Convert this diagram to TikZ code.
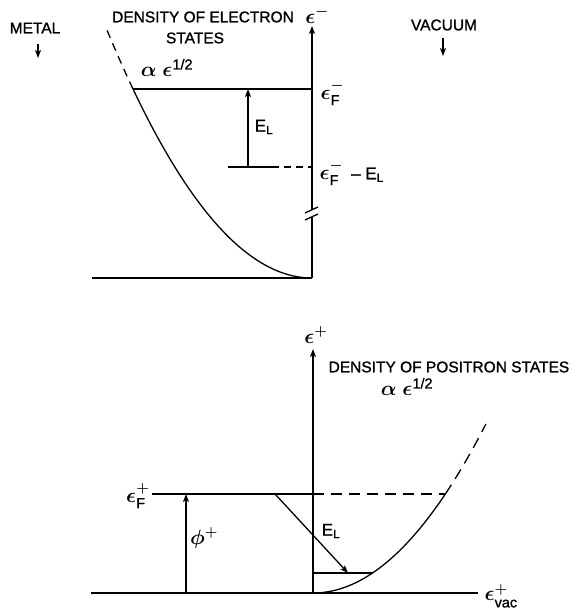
\documentclass[tikz,border=0pt]{standalone}
\usepackage{amsmath}
\usepackage{fontspec}
\setmainfont{Liberation Sans}
\newfontfamily\lbfont{Liberation Sans}[BoldFont={Liberation Sans}, BoldFeatures={FakeBold=1.2}]
\usetikzlibrary{arrows.meta}
\begin{document}
\begin{tikzpicture}[x=1pt,y=-1pt, line width=1.3pt,
  lbl/.style={font=\fontsize{15.5}{18}\selectfont\lbfont\bfseries, inner sep=0pt},
  ellbl/.style={font=\fontsize{17}{18}\selectfont\lbfont\bfseries, inner sep=0pt},
  mlbl/.style={font=\fontsize{20.74}{22}\selectfont\lbfont\bfseries\boldmath, inner sep=0pt},
  arr/.style={-{Stealth[length=8pt,width=6pt,inset=2pt]}},
  dsh/.style={dash pattern=on 8pt off 6pt},
  dshs/.style={dash pattern=on 7pt off 5pt},
  dshl/.style={dash pattern=on 11pt off 7pt}]
\useasboundingbox (0,0) rectangle (572,609);

% ---------- top diagram ----------
\coordinate (aTop) at (312,26);
\coordinate (brkU) at (312,210);
\coordinate (brkL) at (312,217);
\coordinate (aBot) at (312,278);
\draw[arr] (brkU) -- (aTop);
\draw (aBot) -- (brkL);
\coordinate (s1a) at (305,213); \coordinate (s1b) at (318,207);
\coordinate (s2a) at (305,220); \coordinate (s2b) at (318,214);
\draw (s1a) -- (s1b);
\draw (s2a) -- (s2b);

\coordinate (fL) at (133,89);
\coordinate (fR) at (312,89);
\draw (fL) -- (fR);

\coordinate (elB) at (248,167);
\coordinate (elT) at (248,89);
\draw[arr] (elB) -- (elT);

\coordinate (lvL) at (228,167);
\coordinate (lvM) at (272,167);
\coordinate (lvR) at (312,167);
\draw (lvL) -- (lvM);
\draw[dshs] (lvM) -- (lvR);

\coordinate (bL) at (92,278);
\draw (bL) -- (aBot);

\draw plot[domain=0:13.75, samples=60, variable=\t] ({312-13.02*\t},{278-\t*\t});
\draw[dsh] plot[domain=13.75:15.8, samples=10, variable=\t] ({312-13.02*\t},{278-\t*\t});

\node[lbl] (metal) at (35,28) {METAL};
\coordinate (mA) at (38,44); \coordinate (mB) at (38,58);
\draw[arr] (mA) -- (mB);
\node[lbl] (vac) at (444,25) {VACUUM};
\coordinate (vA) at (443,38); \coordinate (vB) at (443,56);
\draw[arr] (vA) -- (vB);

\node[lbl] (dens1) at (203,17) {DENSITY OF ELECTRON};
\node[lbl] (dens2) at (195,38) {STATES};
\node[mlbl] (prop1) at (167,68) {$\alpha\ \epsilon^{\text{1/2}}$};
\node[mlbl] (eminus) at (317,15) {$\epsilon^{-}$};
\node[mlbl, anchor=west] (efm) at (320,93) {$\epsilon^{-}_{\text{F}}$};
\node[ellbl] (el1) at (264,127) {E$_{\text{L}}$};
\node[mlbl, anchor=west] (efmel) at (319,173) {$\epsilon^{-}_{\text{F}}$\,{\fontsize{17}{18}\selectfont\ – E$_{\text{L}}$}};

% ---------- bottom diagram ----------
\coordinate (pTop) at (313,349);
\coordinate (pBot) at (313,593);
\draw[arr] (pBot) -- (pTop);

\coordinate (pbL) at (91,593);
\coordinate (pbR) at (478,593);
\draw (pbL) -- (pbR);

\coordinate (pfL) at (152,494);
\coordinate (pfM) at (313,494);
\coordinate (pfR) at (445,494);
\draw (pfL) -- (pfM);
\draw[dshl] (pfM) -- (pfR);

\coordinate (phB) at (186,593);
\coordinate (phT) at (186,494);
\draw[arr] (phB) -- (phT);

\coordinate (plL) at (313,573);
\coordinate (plR) at (373,573);
\draw (plL) -- (plR);

\coordinate (dS) at (275,494);
\coordinate (dE) at (348,573);
\draw[arr] (dS) -- (dE);

\draw plot[domain=0:9.95, samples=60, variable=\t] ({313+13.3*\t},{593-\t*\t});
\draw[dshl] plot[domain=9.95:13.0, samples=10, variable=\t] ({313+13.3*\t},{593-\t*\t});

\node[mlbl] (eplus) at (316,335) {$\epsilon^{+}$};
\node[lbl, anchor=west] (dens3) at (328,367) {DENSITY OF POSITRON STATES};
\node[mlbl] (prop2) at (407,387) {$\alpha\ \epsilon^{\text{1/2}}$};
\node[mlbl, anchor=east] (efp) at (150,496) {$\epsilon^{+}_{\text{F}}$};
\node[mlbl] (phi) at (204,538) {$\phi^{+}$};
\node[ellbl] (el2) at (331,531) {E$_{\text{L}}$};
\node[mlbl, anchor=west] (evac) at (484,596) {$\epsilon^{+}_{\text{vac}}$};
\end{tikzpicture}
\end{document}
